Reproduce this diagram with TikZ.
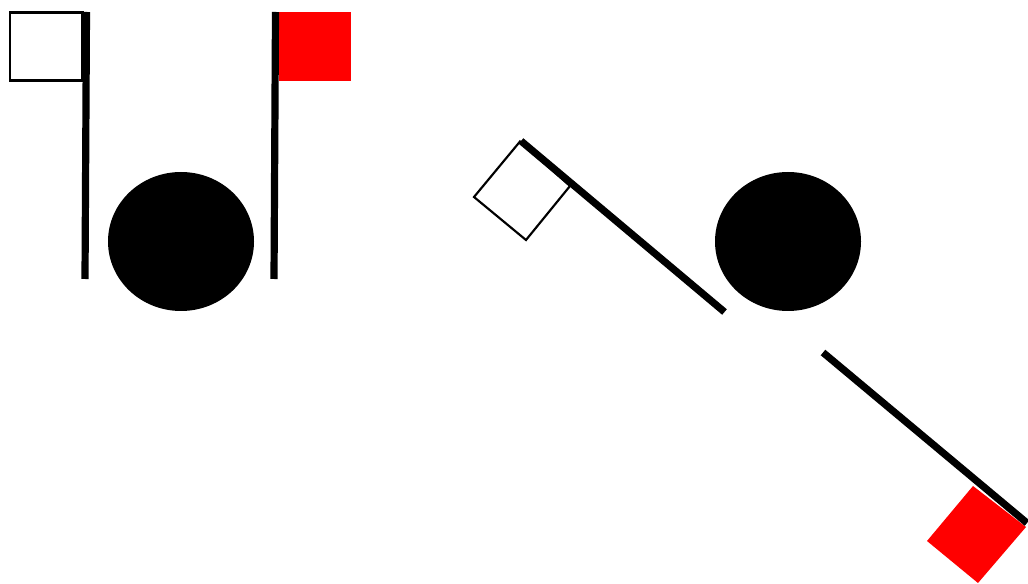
\documentclass[tikz,border=0pt]{standalone}
\begin{document}
\begin{tikzpicture}[x=0.75pt,y=-0.75pt,
  pole/.style={line width=5.4pt},
  flagw/.style={draw=black,fill=white,line width=1.6pt},
  flagr/.style={fill=red},
  ball/.style={fill=black}]
\useasboundingbox (0,0) rectangle (1028,584);
% left group
\draw[flagw] (10,12.5) rectangle (82.5,80.5);
\draw[pole] (86.5,12) -- (85,279);
\fill[ball] (181,241.5) ellipse [x radius=73, y radius=69.5];
\fill[flagr] (279,12) rectangle (351,81);
\draw[pole] (275.5,12) -- (274,279);
% right group
\draw[flagw] (520,141.5) -- (570,186) -- (526,240) -- (474,197) -- cycle;
\draw[pole] (521,141) -- (724.5,312);
\fill[ball] (788,241.5) ellipse [x radius=73, y radius=69.5];
\fill[flagr] (973,486) -- (1026,527) -- (978,583) -- (927,541) -- cycle;
\draw[pole] (823,352.5) -- (1027,523);
\end{tikzpicture}
\end{document}
